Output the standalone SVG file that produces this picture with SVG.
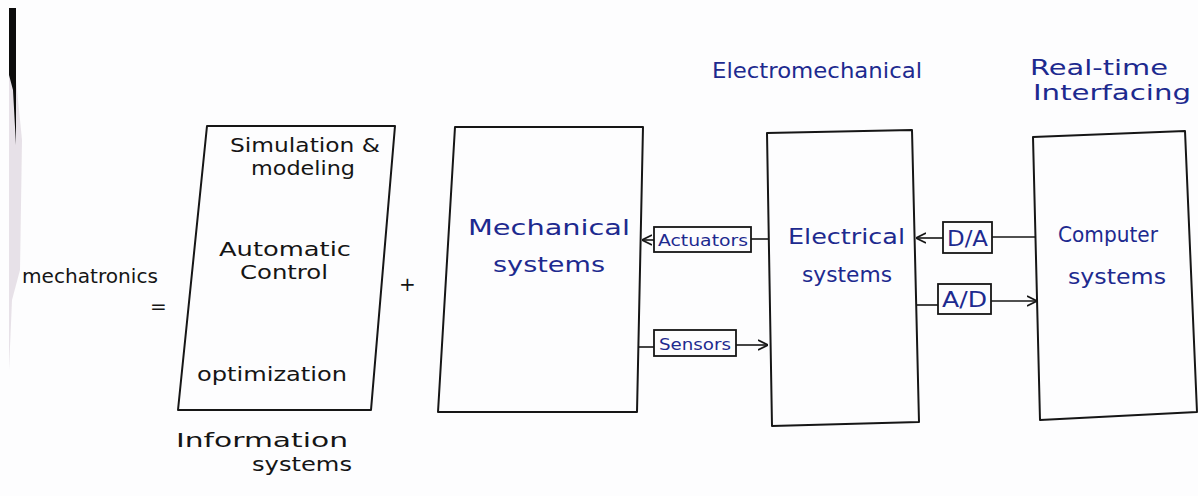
<svg xmlns="http://www.w3.org/2000/svg" width="1198" height="496" viewBox="0 0 1198 496">
  <style>
    .box { fill: none; stroke: #161616; stroke-width: 2; stroke-linejoin: round; }
    .tag { fill: none; stroke: #161616; stroke-width: 1.8; }
    .wire { fill: none; stroke: #161616; stroke-width: 1.6; }
    .k { fill: #151515; font-family: "DejaVu Sans", "Noto Sans", sans-serif; font-size: 20px; }
    .b { fill: #1d2a8f; font-family: "DejaVu Sans", "Noto Sans", sans-serif; font-size: 22px; }
    .sm { font-size: 16px; }
  </style>
  <defs>
    <marker id="chev" viewBox="0 0 10 10" refX="10" refY="5" markerWidth="10" markerHeight="12" markerUnits="userSpaceOnUse" orient="auto">
      <path d="M0,0 L10,5 L0,10" fill="none" stroke="#161616" stroke-width="1.6"/>
    </marker>
  </defs>

  <!-- paper -->
  <rect width="1198" height="496" fill="#fdfdfe"/>
  <!-- page edge on the left -->
  <polygon points="9,60 14,60 22,140 20,270 12,300 9,370" fill="#d8ced8" opacity="0.6"/>
  <polygon points="9,8 16,8 16,145 13,90 9,75" fill="#0c0c0c"/>

  <!-- equation text -->
  <g id="equation">
    <text class="k" x="22" y="283" textLength="136" lengthAdjust="spacingAndGlyphs">mechatronics</text>
    <text class="k" x="150" y="313">=</text>
    <text class="k" x="399" y="291" font-size="24">+</text>
  </g>

  <!-- information systems block -->
  <g id="information-systems">
    <polygon class="box" points="207,126 395,126 371,410 178,410"/>
    <text class="k" x="230" y="152" font-size="17" textLength="150" lengthAdjust="spacingAndGlyphs">Simulation &amp;</text>
    <text class="k" x="251" y="175" font-size="17" textLength="104" lengthAdjust="spacingAndGlyphs">modeling</text>
    <text class="k" x="219" y="256" textLength="132" lengthAdjust="spacingAndGlyphs">Automatic</text>
    <text class="k" x="240" y="279" textLength="88" lengthAdjust="spacingAndGlyphs">Control</text>
    <text class="k" x="197" y="381" textLength="150" lengthAdjust="spacingAndGlyphs">optimization</text>
    <text class="k" x="176" y="447" font-size="22" textLength="172" lengthAdjust="spacingAndGlyphs">Information</text>
    <text class="k" x="252" y="471" font-size="22" textLength="100" lengthAdjust="spacingAndGlyphs">systems</text>
  </g>

  <!-- mechanical systems block -->
  <g id="mechanical-systems">
    <polygon class="box" points="455,127 643,127 637,412 438,412"/>
    <text class="b" x="468" y="235" font-size="26" textLength="162" lengthAdjust="spacingAndGlyphs">Mechanical</text>
    <text class="b" x="493" y="272" font-size="26" textLength="112" lengthAdjust="spacingAndGlyphs">systems</text>
  </g>

  <!-- electrical systems block -->
  <g id="electrical-systems">
    <polygon class="box" points="767,133 912,130 919,422 772,426"/>
    <text class="b" x="788" y="244" textLength="117" lengthAdjust="spacingAndGlyphs">Electrical</text>
    <text class="b" x="802" y="282" textLength="90" lengthAdjust="spacingAndGlyphs">systems</text>
  </g>
  <text class="b" x="712" y="78" textLength="210" lengthAdjust="spacingAndGlyphs">Electromechanical</text>

  <!-- computer systems block -->
  <g id="computer-systems">
    <polygon class="box" points="1033,137 1185,131 1197,412 1040,420"/>
    <text class="b" x="1058" y="242" font-size="21" textLength="100" lengthAdjust="spacingAndGlyphs">Computer</text>
    <text class="b" x="1068" y="284" font-size="21" textLength="98" lengthAdjust="spacingAndGlyphs">systems</text>
  </g>
  <g id="real-time-label">
    <text class="b" x="1030" y="75" textLength="138" lengthAdjust="spacingAndGlyphs">Real-time</text>
    <text class="b" x="1033" y="100" textLength="158" lengthAdjust="spacingAndGlyphs">Interfacing</text>
  </g>

  <!-- interface elements -->
  <g id="actuators">
    <rect class="tag" x="654" y="227" width="97" height="25"/>
    <text class="b sm" x="658" y="246" textLength="90" lengthAdjust="spacingAndGlyphs">Actuators</text>
  </g>
  <g id="sensors">
    <rect class="tag" x="654" y="330" width="82" height="26"/>
    <text class="b sm" x="659" y="350" textLength="72" lengthAdjust="spacingAndGlyphs">Sensors</text>
  </g>
  <g id="da-converter">
    <rect class="tag" x="943" y="222" width="49" height="31"/>
    <text class="b" x="947" y="246" font-size="20" textLength="41" lengthAdjust="spacingAndGlyphs">D/A</text>
  </g>
  <g id="ad-converter">
    <rect class="tag" x="938" y="284" width="53" height="30"/>
    <text class="b" x="942" y="307" font-size="20" textLength="45" lengthAdjust="spacingAndGlyphs">A/D</text>
  </g>

  <!-- connectors -->
  <g id="connectors">
    <line class="wire" x1="768" y1="239" x2="751" y2="239"/>
    <line class="wire" x1="654" y1="240" x2="642" y2="240" marker-end="url(#chev)"/>
    <line class="wire" x1="638" y1="347" x2="654" y2="347"/>
    <line class="wire" x1="736" y1="345" x2="768" y2="345" marker-end="url(#chev)"/>
    <line class="wire" x1="1036" y1="237" x2="992" y2="237"/>
    <line class="wire" x1="943" y1="238" x2="916" y2="238" marker-end="url(#chev)"/>
    <line class="wire" x1="917" y1="305" x2="938" y2="305"/>
    <line class="wire" x1="991" y1="301" x2="1037" y2="301" marker-end="url(#chev)"/>
  </g>
</svg>
